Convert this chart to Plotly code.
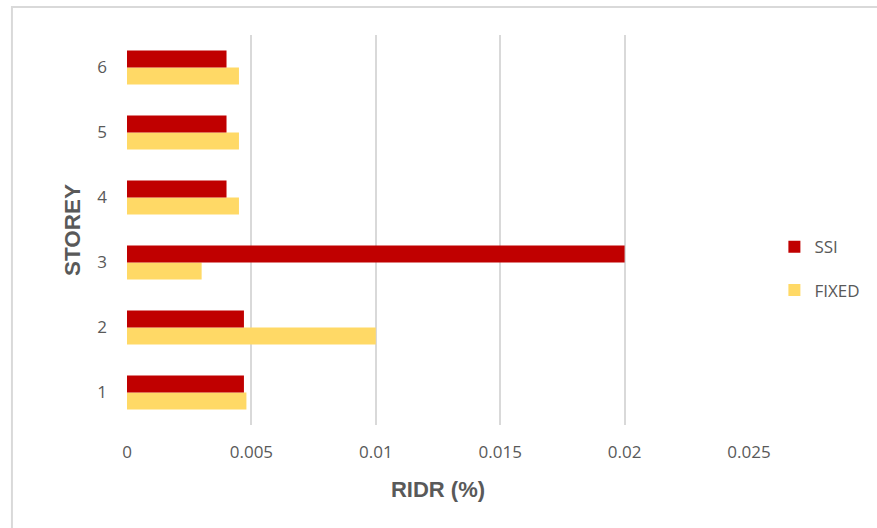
import plotly.graph_objects as go

# Storey-wise residual inter-storey drift ratio
storeys = ["1", "2", "3", "4", "5", "6"]
ssi = [0.0047, 0.0047, 0.02, 0.004, 0.004, 0.004]
fixed = [0.0048, 0.01, 0.003, 0.0045, 0.0045, 0.0045]
x_ticks = [0, 0.005, 0.01, 0.015, 0.02, 0.025]
x_tick_text = ["0", "0.005", "0.01", "0.015", "0.02", "0.025"]

GRAY = "#595959"
FONT = "Open Sans"
TITLE_FONT = "Liberation Sans"

fig = go.Figure()
# first trace sits lowest within each group, so FIXED goes first
fig.add_trace(go.Bar(y=storeys, x=fixed, orientation="h", name="FIXED",
                     marker=dict(color="#FFD966", line=dict(width=0)),
                     legendgroup="fixed", legendrank=2))
fig.add_trace(go.Bar(y=storeys, x=ssi, orientation="h", name="SSI",
                     marker=dict(color="#C00000", line=dict(width=0)),
                     legendgroup="ssi", legendrank=1))

fig.update_layout(
    width=877, height=528,
    margin=dict(l=127, r=128, t=35, b=103, autoexpand=False),
    paper_bgcolor="white", plot_bgcolor="white",
    barmode="group", bargap=0.48, bargroupgap=0,
    font=dict(family=FONT, color=GRAY, size=17),
    showlegend=True,
    legend=dict(xref="container", yref="container",
                x=0.883, y=0.491, xanchor="left", yanchor="middle",
                traceorder="grouped", tracegroupgap=18,
                font=dict(size=17, color=GRAY, family=FONT),
                itemwidth=30, bgcolor="rgba(0,0,0,0)"),
    xaxis=dict(range=[0, 0.025], tickvals=x_ticks, ticktext=x_tick_text,
               showgrid=True, gridcolor="#D9D9D9", gridwidth=2,
               zeroline=False, showline=False, ticks="",
               ticklabelstandoff=15,
               tickfont=dict(size=17, color=GRAY, family=FONT),
               title=dict(text="<b>RIDR (%)</b>", standoff=19,
                          font=dict(size=22, color=GRAY, family=TITLE_FONT))),
    yaxis=dict(type="category", showgrid=False, zeroline=False,
               showline=False, ticks="", ticklabelstandoff=19,
               tickfont=dict(size=17, color=GRAY, family=FONT),
               title=dict(text="<b>STOREY</b>", standoff=10,
                          font=dict(size=22.5, color=GRAY, family=TITLE_FONT))),
    shapes=[dict(type="rect", xref="paper", yref="paper",
                 x0=-0.185, x1=1.3, y0=-0.35, y1=1.072,
                 line=dict(color="#D9D9D9", width=2), fillcolor="rgba(0,0,0,0)",
                 layer="below")],
)

fig.write_html("out.html")
